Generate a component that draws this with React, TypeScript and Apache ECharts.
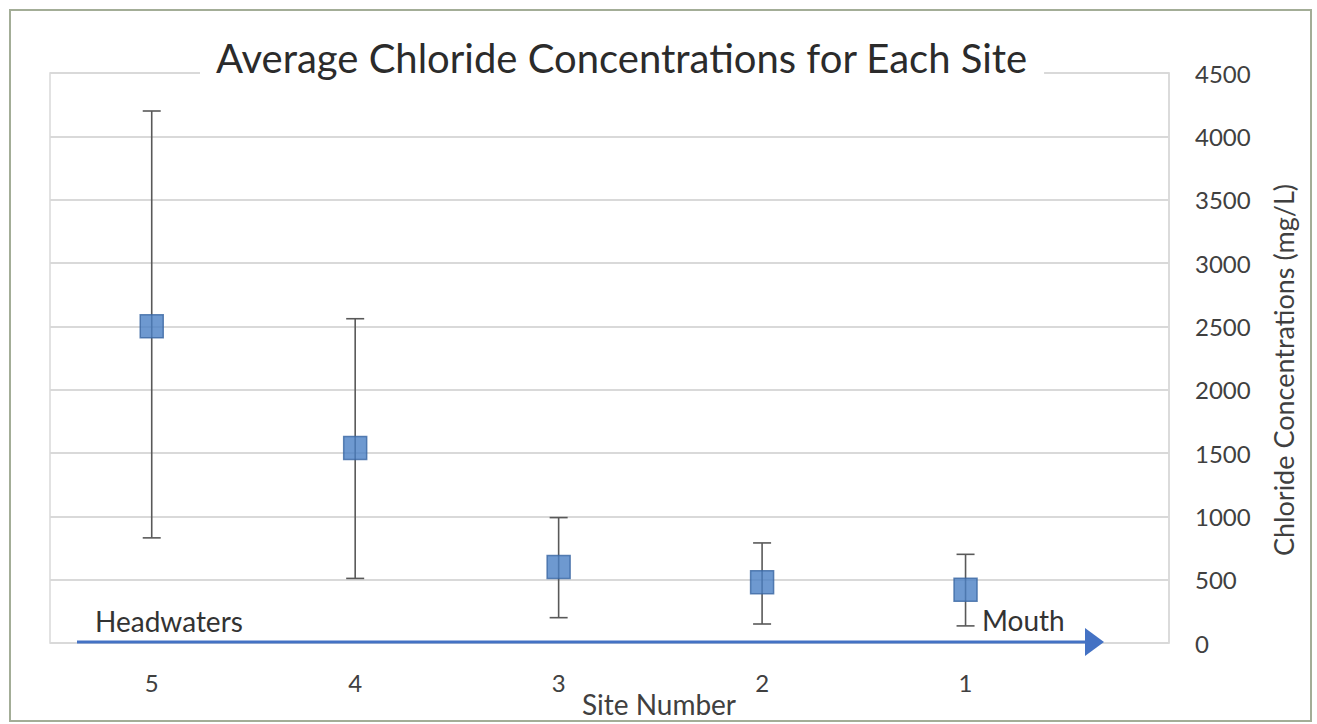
import React, { useEffect, useRef } from "react";
import * as echarts from "echarts";

const sites = [5, 4, 3, 2, 1];
const means = [2500, 1540, 600, 480, 420];
const lows = [830, 510, 200, 150, 135];
const highs = [4200, 2560, 990, 790, 700];
const yTicks = [0, 500, 1000, 1500, 2000, 2500, 3000, 3500, 4000, 4500];

const FONT = "Lato, 'Open Sans', sans-serif";

export default function App() {
  const ref = useRef<HTMLDivElement>(null);
  useEffect(() => {
    document.body.style.margin = "0";
    const chart = echarts.init(ref.current!, null, { renderer: "svg" });
    const meanData = sites.map((s, i) => [s, means[i]]);
    const errData = sites.map((s, i) => [s, lows[i], highs[i]]);
    chart.setOption({
      animation: false,
      backgroundColor: "#ffffff",
      title: {
        text: "Average Chloride Concentrations for Each Site",
        left: 200,
        top: 36,
        padding: [2, 16],
        backgroundColor: "#ffffff",
        textStyle: { fontFamily: FONT, fontSize: 40, fontWeight: "normal", color: "#2b2b2b" },
      },
      grid: { left: 50, right: 148, top: 73, bottom: 81, show: true, borderColor: "#d9d9d9", borderWidth: 1.5 },
      xAxis: {
        type: "value",
        inverse: true,
        min: 0,
        max: 5.5,
        interval: 1,
        axisLine: { show: false },
        axisTick: { show: false },
        splitLine: { show: false },
        axisLabel: {
          margin: 27,
          fontFamily: FONT,
          fontSize: 24,
          color: "#404040",
          formatter: (v: number) => (sites.includes(v) ? String(v) : ""),
        },
      },
      yAxis: {
        type: "value",
        position: "right",
        min: yTicks[0],
        max: yTicks[yTicks.length - 1],
        interval: 500,
        axisLine: { show: true, lineStyle: { color: "#d9d9d9", width: 1.5 } },
        axisTick: { show: false },
        splitLine: { show: true, lineStyle: { color: "#d9d9d9", width: 2 } },
        axisLabel: { margin: 26, fontFamily: FONT, fontSize: 24, color: "#404040", formatter: (v: number) => String(v) },
      },
      series: [
        {
          type: "custom",
          data: errData,
          z: 2,
          renderItem: (params: any, api: any) => {
            const x = api.value(0);
            const lo = api.coord([x, api.value(1)]);
            const hi = api.coord([x, api.value(2)]);
            const c = 9;
            const style = { stroke: "#595959", lineWidth: 1.6 };
            return {
              type: "group",
              children: [
                { type: "line", shape: { x1: lo[0], y1: lo[1], x2: hi[0], y2: hi[1] }, style },
                { type: "line", shape: { x1: hi[0] - c, y1: hi[1], x2: hi[0] + c, y2: hi[1] }, style },
                { type: "line", shape: { x1: lo[0] - c, y1: lo[1], x2: lo[0] + c, y2: lo[1] }, style },
              ],
            };
          },
        },
        {
          type: "scatter",
          data: meanData,
          z: 3,
          symbol: "rect",
          symbolSize: 23,
          itemStyle: { color: "#4a7fc4", borderColor: "#3a67a3", borderWidth: 1.5 },
        },
      ],
      graphic: [
        {
          type: "rect",
          shape: { x: 10, y: 10, width: 1301, height: 711 },
          style: { fill: "none", stroke: "#a3ad97", lineWidth: 2 },
          silent: true,
        },
        {
          type: "line",
          shape: { x1: 77, y1: 642, x2: 1088, y2: 642 },
          style: { stroke: "#4472c4", lineWidth: 3 },
          z: 10,
        },
        {
          type: "polygon",
          shape: { points: [[1085, 628], [1104, 642], [1085, 656]] },
          style: { fill: "#4472c4" },
          z: 10,
        },
        {
          type: "text",
          x: 95,
          y: 621,
          style: { text: "Headwaters", font: `28px ${FONT}`, fill: "#333333", verticalAlign: "middle" },
          z: 10,
        },
        {
          type: "text",
          x: 982,
          y: 620,
          style: { text: "Mouth", font: `28px ${FONT}`, fill: "#333333", verticalAlign: "middle" },
          z: 10,
        },
        {
          type: "text",
          x: 659,
          y: 704,
          style: { text: "Site Number", font: `28px ${FONT}`, fill: "#404040", align: "center", verticalAlign: "middle" },
          z: 10,
        },
        {
          type: "text",
          x: 1283,
          y: 370,
          rotation: Math.PI / 2,
          style: {
            text: "Chloride Concentrations (mg/L)",
            font: `27px ${FONT}`,
            fill: "#404040",
            align: "center",
            verticalAlign: "middle",
          },
          z: 10,
        },
      ],
    });
    return () => chart.dispose();
  }, []);
  return <div ref={ref} style={{ width: 1317, height: 724 }} />;
}
